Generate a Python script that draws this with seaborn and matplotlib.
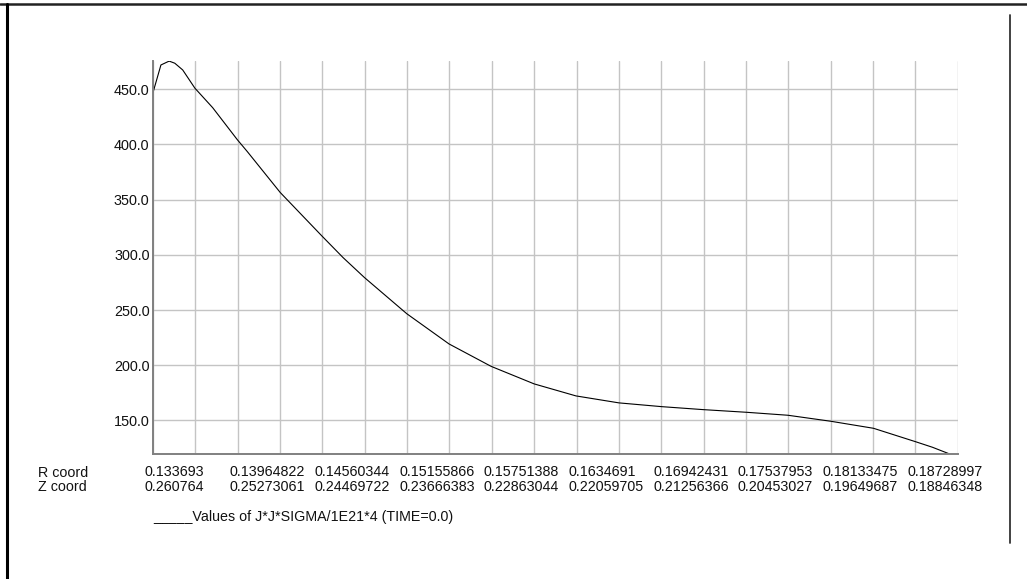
import matplotlib
matplotlib.use("Agg")
import matplotlib.pyplot as plt
from matplotlib.lines import Line2D
import seaborn as sns
import pandas as pd

# ---- data ----
r_coord = [0.133693, 0.134250, 0.134828, 0.135224, 0.135781, 0.136637, 0.137890,
           0.139610, 0.140326, 0.142637, 0.145575, 0.147057, 0.148554, 0.151533,
           0.154505, 0.157463, 0.160491, 0.163436, 0.166456, 0.169450, 0.172373,
           0.175408, 0.178331, 0.181324, 0.184345, 0.187290, 0.188494, 0.189705]
values = [447.0, 472.0, 475.5, 473.6, 467.5, 451.0, 433.3,
          404.5, 393.5, 356.5, 317.0, 297.5, 279.5, 246.7,
          219.3, 199.0, 183.1, 172.2, 165.9, 162.5, 159.8,
          157.4, 154.7, 149.3, 142.9, 130.8, 125.7, 119.6]

r_tick_labels = ["0.133693", "0.13964822", "0.14560344", "0.15155866", "0.15751388",
                 "0.1634691", "0.16942431", "0.17537953", "0.18133475", "0.18728997"]
z_tick_labels = ["0.260764", "0.25273061", "0.24469722", "0.23666383", "0.22863044",
                 "0.22059705", "0.21256366", "0.20453027", "0.19649687", "0.18846348"]
y_ticks = [150.0, 200.0, 250.0, 300.0, 350.0, 400.0, 450.0]
series_label = "Values of J*J*SIGMA/1E21*4 (TIME=0.0)"

df = pd.DataFrame({"R": r_coord, "value": values})

sns.set_theme(style="white")
plt.rcParams['font.family'] = ['Liberation Sans', 'DejaVu Sans']

W, H = 1027, 579
fig = plt.figure(figsize=(W / 100, H / 100), dpi=100)
ax = fig.add_axes([153 / W, 1 - 454 / H, (957.7 - 153) / W, (454 - 61) / H])

sns.lineplot(data=df, x="R", y="value", ax=ax, color="black", linewidth=0.8,
             estimator=None, sort=False)

r_ticks = [float(t) for t in r_tick_labels]
step = (r_ticks[-1] - r_ticks[0]) / (len(r_ticks) - 1)
minor = [t + step / 2 for t in r_ticks]

ax.set_xlim(r_coord[0], r_coord[-1])
ax.set_ylim(min(values), max(values) + 0.1)

ax.set_xticks(r_ticks)
ax.set_xticklabels([""] * len(r_ticks))
ax.set_xticks(minor, minor=True)
ax.set_yticks(y_ticks)
ax.set_yticklabels([f"{v:.1f}" for v in y_ticks], fontsize=10.4, color="#111111")

# two-row tick labels, left aligned slightly left of each tick
for r, rl, zl in zip(r_ticks, r_tick_labels, z_tick_labels):
    ax.annotate(f"{rl}\n{zl}", xy=(r, 0), xycoords=ax.get_xaxis_transform(),
                xytext=(-8, -11.5), textcoords="offset pixels", ha="left", va="top",
                fontsize=10.3, linespacing=1.05, color="#111111", annotation_clip=False)

ax.tick_params(axis="both", which="both", length=0)
ax.tick_params(axis="y", pad=2.5)

ax.grid(True, which="both", color="#c4c4c4", linewidth=1.0)
ax.set_axisbelow(True)
ax.set_xlabel("")
ax.set_ylabel("")
for s in ["top", "right"]:
    ax.spines[s].set_visible(False)
for s in ["left", "bottom"]:
    ax.spines[s].set_color("#808080")
    ax.spines[s].set_linewidth(1.4)

fig.text(37.7 / W, 1 - 480.2 / H, "R coord\nZ coord", ha="left", va="center",
         fontsize=10.3, linespacing=1.05, color="#111111")
fig.text(153 / W, 1 - 517 / H, "_____" + series_label, ha="left", va="center",
         fontsize=10.3, color="#111111")

# outer frame decorations
fig.add_artist(Line2D([0, 1], [1 - 4 / H, 1 - 4 / H], transform=fig.transFigure,
                      color="#222222", linewidth=1.8))
fig.add_artist(Line2D([7 / W, 7 / W], [0, 1 - 4 / H], transform=fig.transFigure,
                      color="black", linewidth=2.2))
fig.add_artist(Line2D([1009.5 / W, 1009.5 / W], [1 - 543 / H, 1 - 15 / H],
                      transform=fig.transFigure, color="#333333", linewidth=1.3))

fig.savefig("out.png", dpi=100, facecolor="white")
